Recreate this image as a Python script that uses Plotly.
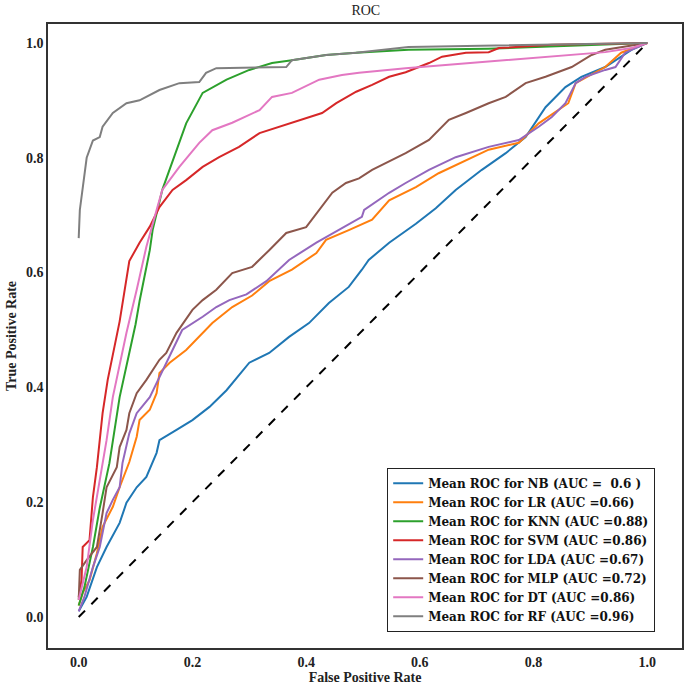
import plotly.graph_objects as go

# ---- data ----
NB_x = [0, 0.014, 0.032, 0.049, 0.072, 0.084, 0.102, 0.119, 0.137, 0.142, 0.172, 0.2, 0.23, 0.26, 0.3, 0.335, 0.37, 0.405, 0.44, 0.475, 0.498, 0.51, 0.546, 0.593, 0.628, 0.663, 0.709, 0.751, 0.786, 0.821, 0.856, 0.884, 0.926, 0.972, 1.0]
NB_y = [0.01, 0.035, 0.087, 0.122, 0.164, 0.199, 0.226, 0.244, 0.286, 0.308, 0.326, 0.343, 0.366, 0.395, 0.443, 0.46, 0.488, 0.512, 0.547, 0.575, 0.605, 0.622, 0.652, 0.685, 0.712, 0.744, 0.779, 0.808, 0.836, 0.888, 0.923, 0.941, 0.958, 0.988, 1.0]

LR_x = [0, 0.007, 0.019, 0.032, 0.042, 0.06, 0.072, 0.089, 0.102, 0.107, 0.125, 0.137, 0.142, 0.16, 0.189, 0.212, 0.235, 0.27, 0.305, 0.335, 0.375, 0.418, 0.435, 0.475, 0.516, 0.546, 0.593, 0.633, 0.681, 0.721, 0.774, 0.809, 0.861, 0.874, 0.926, 0.954, 1.0]
LR_y = [0.02, 0.042, 0.064, 0.111, 0.157, 0.192, 0.226, 0.27, 0.314, 0.343, 0.361, 0.39, 0.425, 0.443, 0.465, 0.488, 0.512, 0.54, 0.56, 0.585, 0.605, 0.634, 0.657, 0.674, 0.692, 0.726, 0.749, 0.773, 0.796, 0.814, 0.826, 0.86, 0.895, 0.93, 0.958, 0.983, 1.0]

KNN_x = [0, 0.005, 0.01, 0.025, 0.037, 0.054, 0.072, 0.1, 0.107, 0.125, 0.13, 0.147, 0.172, 0.189, 0.218, 0.26, 0.3, 0.34, 0.375, 0.435, 0.488, 0.58, 0.72, 0.85, 1.0]
KNN_y = [0.02, 0.035, 0.052, 0.122, 0.19, 0.268, 0.383, 0.51, 0.55, 0.639, 0.674, 0.744, 0.814, 0.86, 0.913, 0.936, 0.953, 0.965, 0.97, 0.979, 0.983, 0.988, 0.99, 0.995, 1.0]

SVM_x = [0, 0.005, 0.007, 0.019, 0.025, 0.032, 0.042, 0.051, 0.072, 0.089, 0.107, 0.125, 0.142, 0.165, 0.189, 0.218, 0.247, 0.282, 0.318, 0.353, 0.388, 0.428, 0.453, 0.488, 0.516, 0.546, 0.575, 0.616, 0.639, 0.681, 0.721, 0.739, 0.832, 1.0]
SVM_y = [0.035, 0.064, 0.122, 0.134, 0.209, 0.261, 0.355, 0.413, 0.515, 0.62, 0.652, 0.68, 0.714, 0.744, 0.761, 0.784, 0.801, 0.819, 0.843, 0.854, 0.866, 0.878, 0.895, 0.915, 0.927, 0.941, 0.949, 0.965, 0.976, 0.983, 0.984, 0.991, 0.997, 1.0]

LDA_x = [0, 0.01, 0.025, 0.037, 0.049, 0.06, 0.072, 0.077, 0.089, 0.102, 0.125, 0.142, 0.165, 0.182, 0.218, 0.242, 0.265, 0.295, 0.33, 0.37, 0.418, 0.458, 0.498, 0.502, 0.546, 0.575, 0.616, 0.663, 0.721, 0.774, 0.809, 0.832, 0.856, 0.874, 0.891, 0.926, 0.944, 0.961, 1.0]
LDA_y = [0.01, 0.035, 0.087, 0.122, 0.181, 0.204, 0.226, 0.268, 0.32, 0.355, 0.383, 0.418, 0.465, 0.5, 0.523, 0.54, 0.552, 0.562, 0.585, 0.622, 0.652, 0.674, 0.697, 0.709, 0.739, 0.756, 0.779, 0.801, 0.819, 0.831, 0.854, 0.871, 0.895, 0.93, 0.941, 0.953, 0.958, 0.983, 1.0]

MLP_x = [0, 0.002, 0.014, 0.032, 0.042, 0.049, 0.067, 0.072, 0.084, 0.089, 0.102, 0.119, 0.142, 0.154, 0.172, 0.2, 0.218, 0.242, 0.27, 0.305, 0.335, 0.365, 0.4, 0.423, 0.446, 0.47, 0.493, 0.516, 0.575, 0.616, 0.651, 0.681, 0.721, 0.751, 0.786, 0.821, 0.867, 0.902, 0.926, 1.0]
MLP_y = [0.03, 0.082, 0.099, 0.122, 0.181, 0.226, 0.261, 0.296, 0.326, 0.355, 0.39, 0.413, 0.448, 0.46, 0.495, 0.535, 0.552, 0.57, 0.599, 0.61, 0.639, 0.669, 0.679, 0.709, 0.739, 0.756, 0.764, 0.779, 0.808, 0.831, 0.866, 0.878, 0.895, 0.906, 0.93, 0.941, 0.958, 0.979, 0.988, 1.0]

DT_x = [0, 0.014, 0.025, 0.037, 0.049, 0.06, 0.084, 0.102, 0.119, 0.137, 0.147, 0.177, 0.212, 0.235, 0.27, 0.318, 0.34, 0.375, 0.423, 0.463, 0.493, 0.575, 0.691, 0.809, 0.926, 0.972, 1.0]
DT_y = [0.03, 0.087, 0.169, 0.239, 0.308, 0.383, 0.495, 0.57, 0.645, 0.709, 0.744, 0.784, 0.826, 0.848, 0.861, 0.883, 0.906, 0.913, 0.936, 0.944, 0.948, 0.956, 0.965, 0.974, 0.984, 0.991, 1.0]

RF_x = [0, 0.002, 0.014, 0.025, 0.037, 0.042, 0.06, 0.084, 0.107, 0.142, 0.177, 0.212, 0.224, 0.242, 0.365, 0.375, 0.435, 0.488, 0.58, 1.0]
RF_y = [0.66, 0.709, 0.80, 0.83, 0.836, 0.854, 0.878, 0.895, 0.90, 0.918, 0.93, 0.932, 0.948, 0.956, 0.958, 0.97, 0.979, 0.983, 0.993, 1.0]

CHANCE_x = [0, 1]
CHANCE_y = [0, 1]

labels = [
    "Mean ROC for NB (AUC =\u00a0 0.6 )",
    "Mean ROC for LR (AUC =0.66)",
    "Mean ROC for KNN (AUC =0.88)",
    "Mean ROC for SVM (AUC =0.86)",
    "Mean ROC for LDA (AUC =0.67)",
    "Mean ROC for MLP (AUC =0.72)",
    "Mean ROC for DT (AUC =0.86)",
    "Mean ROC for RF (AUC =0.96)",
]
series = [(NB_x, NB_y), (LR_x, LR_y), (KNN_x, KNN_y), (SVM_x, SVM_y),
          (LDA_x, LDA_y), (MLP_x, MLP_y), (DT_x, DT_y), (RF_x, RF_y)]
colors = ["#1f77b4", "#ff7f0e", "#2ca02c", "#d62728",
          "#9467bd", "#8c564b", "#e377c2", "#7f7f7f"]

FONT = "Liberation Serif"

fig = go.Figure()
fig.add_trace(go.Scatter(x=CHANCE_x, y=CHANCE_y, mode="lines",
                         line=dict(color="black", width=2, dash="dash"),
                         showlegend=False, hoverinfo="skip"))
for (xs, ys), lab, col in zip(series, labels, colors):
    fig.add_trace(go.Scatter(x=xs, y=ys, mode="lines", name=lab,
                             line=dict(color=col, width=2)))

axis_common = dict(
    showgrid=False, zeroline=False, showline=True, mirror=True,
    linecolor="#333333", linewidth=1.5, ticks="",
    tickvals=[0, 0.2, 0.4, 0.6, 0.8, 1.0], tickformat=".1f",
    tickfont=dict(family=FONT, size=14, color="#222222", weight="bold"),
)

fig.update_layout(
    width=685, height=686,
    margin=dict(l=48, r=1, t=24, b=38),
    paper_bgcolor="white", plot_bgcolor="white",
    title=dict(text="ROC", x=0.534, xanchor="center", y=0.985, yanchor="middle",
               font=dict(family=FONT, size=14, color="#222222")),
    xaxis=dict(range=[-0.054, 1.061],
               title=dict(text="False Positive Rate", standoff=4,
                          font=dict(family=FONT, size=14, color="#222222", weight="bold")),
               **axis_common),
    yaxis=dict(range=[-0.054, 1.033],
               title=dict(text="True Positive Rate", standoff=6,
                          font=dict(family=FONT, size=14, color="#222222", weight="bold")),
               **axis_common),
    legend=dict(x=0.535, y=0.026, xanchor="left", yanchor="bottom",
                bordercolor="#222222", borderwidth=1, bgcolor="white",
                font=dict(family="DejaVu Serif", size=12, color="#111111", weight="bold"),
                tracegroupgap=0, itemwidth=30),
)

fig.write_html("out.html",
               config={"displayModeBar": False},
               post_script="document.body.style.margin='0';document.body.style.overflow='hidden';")
